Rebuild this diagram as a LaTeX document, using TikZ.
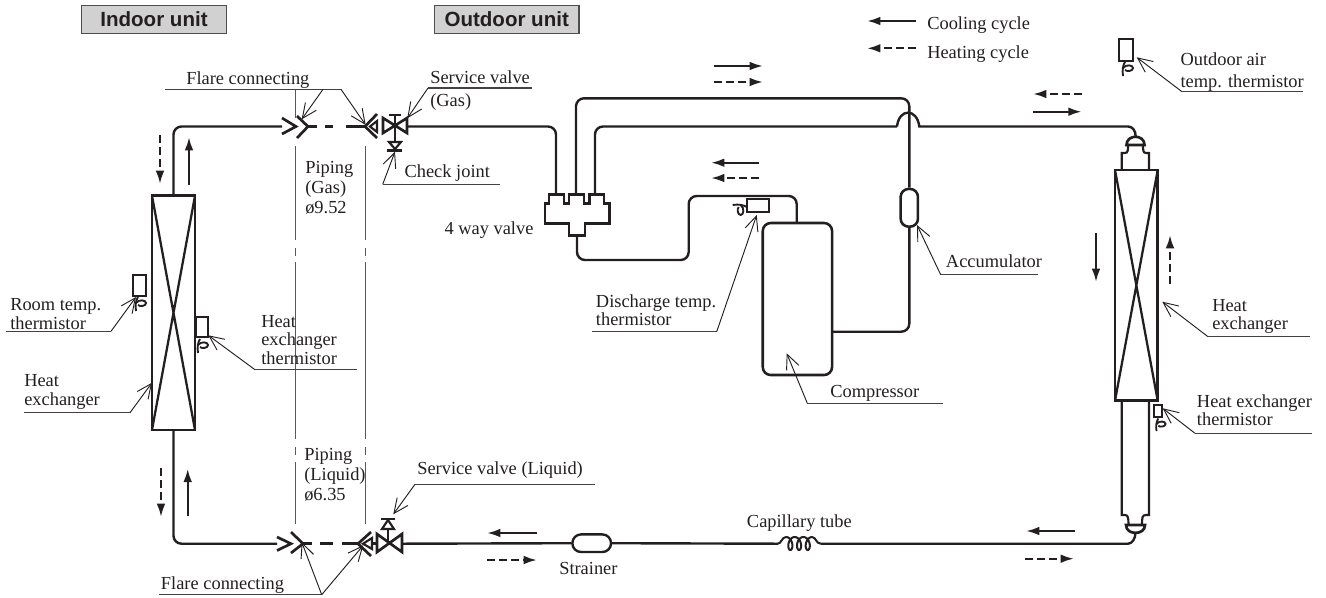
\documentclass[tikz,border=0pt]{standalone}
\usepackage{fontspec}
\setmainfont{Liberation Serif}
\newfontfamily\boxfont{Liberation Sans}
\usetikzlibrary{arrows.meta}
\definecolor{ink}{HTML}{231F20}
\tikzset{
  lbl/.style={inner sep=0pt,anchor=base west,align=left,text=ink,font=\fontsize{13.8}{13.9}\selectfont},
  lblwide/.style={lbl,font=\fontsize{13.8}{15}\selectfont},
  unitbox/.style={draw=ink!80,line width=0.9pt,fill=black!18,minimum width=108.5pt,minimum height=21.5pt,inner sep=0pt,font=\boxfont\bfseries\fontsize{15.4}{16}\selectfont,text=ink},
  pipe/.style={draw=ink,line width=1.8pt,rounded corners=6pt},
  hxbody/.style={draw=ink,line width=2.2pt,line join=miter},
  hxcross/.style={draw=ink,line width=1.7pt},
  part/.style={draw=ink,line width=2pt,line join=miter},
  partthin/.style={draw=ink,line width=1.6pt,line join=miter},
  leader/.style={draw=ink,line width=0.7pt,-{Straight Barb[length=11pt,width=10pt,line width=0.7pt]}},
  underl/.style={draw=ink!85,line width=0.8pt},
  cut/.style={draw=black!65,line width=0.9pt},
  cool/.style={draw=ink,line width=1.7pt,-{Latex[length=10pt,width=6.5pt]}},
  heat/.style={cool,dash pattern=on 6pt off 3pt},
  curl/.pic={\draw[ink,line width=1.4pt] (2,0) .. controls (0,3) and (-1,8) .. (0,14);
             \draw[ink,line width=1.4pt] (0,6) .. controls (3,2) and (10,3) .. (10,6) .. controls (10,9) and (4,10) .. (2,8);}
}
\begin{document}
\begin{tikzpicture}[x=0.75pt,y=-0.75pt,>=latex]
    \useasboundingbox (0,0) rectangle (1326,597);

    % unit titles
    \node[unitbox] (indoor) at (154,19.5) {Indoor unit};
    \node[unitbox] (outdoor) at (506.7,19.5) {Outdoor unit};

    % legend
    \coordinate (coolA) at (916,21);
    \coordinate (coolB) at (867,21);
    \coordinate (heatA) at (916,48.3);
    \coordinate (heatB) at (867,48.3);
    \draw[cool] (coolA) -- (coolB);
    \draw[heat] (heatA) -- (heatB);
    \node[lbl] (coolLbl) at (927,29) {Cooling cycle};
    \node[lbl] (heatLbl) at (927,58) {Heating cycle};

    % piping section lines
    \draw[cut] (295.5,89.3) -- (295.5,118);
    \foreach \x in {295.5,365.5} {
        \draw[cut] (\x,146) -- (\x,240);
        \draw[cut] (\x,248) -- (\x,255.5);
        \draw[cut] (\x,262) -- (\x,439);
        \draw[cut] (\x,447) -- (\x,455);
        \draw[cut] (\x,462) -- (\x,524);
    }

    % indoor heat exchanger
    \coordinate (ihxTop) at (173.5,195.7);
    \coordinate (ihxBot) at (173.5,430);
    \draw[hxbody] (152,195.7) rectangle (195,430);
    \draw[hxcross] (152,195.7) -- (195,430) (195,195.7) -- (152,430);

    % outdoor heat exchanger
    \coordinate (ohxTop) at (1135.7,136.7);
    \coordinate (ohxBot) at (1135.5,532);
    \draw[hxbody] (1115,170) rectangle (1157.7,400.7);
    \draw[hxcross] (1115,170) -- (1157.7,400.7) (1157.7,170) -- (1115,400.7);
    \draw[partthin] (1121.7,170) -- (1121.7,153) -- (1125,153) .. controls (1128,153) and (1128,150) .. (1128,145);
    \draw[partthin] (1149,170) -- (1149,153) -- (1146,153) .. controls (1143,153) and (1143,150) .. (1143,145);
    \draw[part] (1126.5,145) .. controls (1126.5,134) and (1144.5,134) .. (1144.5,145) -- cycle;
    \draw[partthin] (1121.7,400.7) -- (1121.7,515) -- (1125,515) .. controls (1128,515) and (1128.5,518) .. (1128.5,525);
    \draw[partthin] (1149,400.7) -- (1149,515) -- (1146,515) .. controls (1142,515) and (1142,518) .. (1142,525);
    \draw[part] (1126,525) -- (1145,525) .. controls (1145,535.5) and (1126,535.5) .. cycle;

    % flare and valves, gas side
    \coordinate (gasFlare) at (282,126.5);
    \coordinate (gasFlareB) at (308,126.5);
    \coordinate (gasValveL) at (365,126.5);
    \coordinate (gasValveR) at (407,126.5);
    \draw[part] (282,118) -- (296,126.5) -- (282,134);
    \draw[part] (297,116) -- (308,126.5) -- (297,138);
    \draw[part] (377,114) -- (365,126.5) -- (377,138);
    \draw[partthin] (377,121) -- (370,126.5) -- (377,132) -- cycle;
    \draw[part] (383,118) -- (407,133) -- (407,118) -- (383,133) -- cycle;
    \draw[part] (395,115) -- (395,142);
    \draw[part] (389,115) -- (401,115);
    \draw[partthin] (389,142) -- (401,142) -- (395,149) -- cycle;
    \draw[part] (387,150.3) -- (402,150.3);

    % flare and valves, liquid side
    \coordinate (liqFlareB) at (303,543.7);
    \coordinate (liqValveL) at (358,543.7);
    \coordinate (liqValveR) at (402,543.7);
    \draw[part] (277,537) -- (291,543.7) -- (277,550.5);
    \draw[part] (291,532) -- (303,543.7) -- (291,553);
    \draw[part] (371,532) -- (358,543.7) -- (371,556);
    \draw[partthin] (372,538) -- (363,543.7) -- (372,549) -- cycle;
    \draw[part] (372,543.7) -- (377,543.7);
    \draw[part] (377,534) -- (402,552) -- (402,534) -- (377,552) -- cycle;
    \draw[part] (388,543.7) -- (388,529);
    \draw[partthin] (382,529) -- (394,529) -- (388,520) -- cycle;
    \draw[part] (381,519) -- (395,519);

    % dashed pipe between the flares
    \draw[part] (gasFlareB) -- (317,126.5) (325,126.5) -- (333,126.5) (346,126.5) -- (gasValveL);
    \draw[part] (liqFlareB) -- (312,543.7) (320,543.7) -- (333,543.7) (342,543.7) -- (liqValveL);

    % 4 way valve
    \draw[part] (545,203.3) -- (549,203.3) -- (549,194.3) -- (564,194.3) -- (564,203.3) -- (569,203.3) -- (569,194.3) -- (584,194.3) -- (584,203.3) -- (589.3,203.3) -- (589.3,194.3) -- (604,194.3) -- (604,203.3) -- (609.3,203.3) -- (609.3,223.3) -- (585,223.3) -- (585,235.7) -- (569,235.7) -- (569,223.3) -- (545,223.3) -- cycle;
    \coordinate (wayA) at (556,194.3);
    \coordinate (wayB) at (576,194.3);
    \coordinate (wayC) at (595,194.3);
    \coordinate (wayD) at (577,235.7);

    % compressor, accumulator
    \node[draw=ink,line width=1.9pt,rounded corners=6pt,inner sep=0pt,minimum width=52pt,minimum height=114pt] (comp) at (797.4,299) {};
    \node[draw=ink,line width=1.9pt,rounded corners=6pt,inner sep=0pt,minimum width=13pt,minimum height=28.3pt] (accu) at (909.3,207.8) {};
    \node[draw=ink,line width=1.8pt,rounded corners=6.5pt,inner sep=0pt,minimum width=29pt,minimum height=13.2pt] (strainer) at (591.7,543.2) {};

    % pipes
    \draw[pipe] (ihxTop) -- (173.5,126.5) -- (gasFlare);
    \draw[pipe] (ihxBot) -- (173.5,543.7) -- (277,543.7);
    \draw[pipe] (gasValveR) -- (556,126.5) -- (wayA);
    \draw[pipe] (wayB) -- (576,98.3) -- (909.3,98.3) -- (accu.north);
    \draw[pipe] (wayC) -- (595,126.5) -- (897,126.5);
    \draw[pipe,rounded corners=0pt] (897,126.5) .. controls (899,108) and (917,108) .. (919.3,126.5) -- (1128,126.5) .. controls (1132,126.5) and (1135.7,130) .. (ohxTop);
    \draw[pipe] (wayD) -- (577,260) -- (688.7,260) -- (688.7,196) -- (796.7,196) -- (796.7,223);
    \draw[pipe] (accu.south) -- (909.3,331.7) -- (832,331.7);
    \coordinate (coilA) at (778,543.7);
    \coordinate (coilB) at (820.7,543.7);
    \draw[pipe,rounded corners=0pt] (ohxBot) .. controls (1135.5,539) and (1132,543.7) .. (1128,543.7) -- (coilB);
    \draw[pipe] (coilA) -- (strainer.east);
    \draw[pipe] (strainer.west) -- (liqValveR);

    % capillary coil
    \draw[ink,line width=1.5pt] (coilA) .. controls (781,543.7) and (782,537) .. (786,537);
    \draw[ink,line width=1.5pt,domain=0:1080,samples=120,smooth] plot ({786+\x*8.7/360+4*sin(\x)},{543.5-6.5*cos(\x)});
    \draw[ink,line width=1.5pt] (812,537) .. controls (816,537) and (816,543.7) .. (coilB);

    % thermistors
    \draw[partthin] (132.7,275) rectangle (146,296);
    \pic at (136,297) {curl};
    \draw[partthin] (196,317) rectangle (208,337);
    \pic at (198,339) {curl};
    \draw[partthin] (746.7,199) rectangle (769,212);
    \pic[rotate=-90] at (746.7,205) {curl};
    \draw[partthin] (1119,39) rectangle (1132.7,60.7);
    \pic at (1123,62) {curl};
    \draw[partthin] (1153.7,405) rectangle (1161.7,417.3);
    \pic[scale=0.9] at (1156.5,418.5) {curl};

    % flow arrows
    \foreach \a/\b/\c/\d in {714/66/763/66, 1033/111.7/1081.7/111.7, 759/162.7/711/162.7, 1096/233/1096/282, 1075/531/1026/531, 537/533/487/533, 189/185/189/137, 187.7/516/187.7/468.7} {
        \draw[cool] (\a,\b) -- (\c,\d);
    }
    \foreach \a/\b/\c/\d in {714/82/763/82, 1081.7/94/1033/94, 759/178/711/178, 1170/284/1170/235, 1025/558.7/1074/558.7, 487/560/537/560, 160/135/160/184, 161/468/161/517} {
        \draw[heat] (\a,\b) -- (\c,\d);
    }

    % labels with their leaders
    \node[lbl] (flareTop) at (186,84) {Flare connecting};
    \coordinate (flareTopA) at (165,89.3);
    \coordinate (flareTopB) at (341,89.3);
    \coordinate (flareTopC) at (323,89.3);
    \draw[underl] (flareTopA) -- (flareTopB);
    \draw[leader] (flareTopC) -- (301.7,119.3);
    \draw[leader] (flareTopB) -- (365.7,125);

    \node[lbl] (gasSV) at (430,83.5) {Service valve};
    \node[lbl] (gasSVb) at (430,106) {(Gas)};
    \coordinate (gasSVA) at (428,88);
    \coordinate (gasSVB) at (532,88);
    \draw[underl] (gasSVA) -- (gasSVB);
    \draw[leader] (gasSVA) -- (407.3,118.3);

    \node[lbl] (check) at (404.3,177.7) {Check joint};
    \coordinate (checkA) at (382.7,184.3);
    \coordinate (checkB) at (500,184.3);
    \draw[underl] (checkA) -- (checkB);
    \draw[leader] (checkA) -- (395,151.7);

    \node[lbl] (way) at (444.3,234) {4 way valve};
    \node[lblwide,anchor=north west] (pipeGas) at (305,161) {Piping\\(Gas)\\ø9.52};
    \node[lblwide,anchor=north west] (pipeLiq) at (304,448) {Piping\\(Liquid)\\ø6.35};

    \node[lbl] (liqSV) at (417,474.7) {Service valve (Liquid)};
    \coordinate (liqSVA) at (415,484.3);
    \coordinate (liqSVB) at (595,484.3);
    \draw[underl] (liqSVA) -- (liqSVB);
    \draw[leader] (liqSVA) -- (393.3,514.3);

    \node[lbl] (flareBot) at (160.7,589) {Flare connecting};
    \coordinate (flareBotA) at (159,594.7);
    \coordinate (flareBotB) at (321.7,594.7);
    \draw[underl] (flareBotA) -- (flareBotB);
    \draw[leader] (flareBotB) -- (301.7,542);
    \draw[leader] (flareBotB) -- (363.3,545.3);

    \node[lbl,anchor=north west] (room) at (10,298.5) {Room temp.\\thermistor};
    \coordinate (roomA) at (6,331.3);
    \coordinate (roomB) at (111,331.3);
    \draw[underl] (roomA) -- (roomB);
    \draw[leader] (roomB) -- (136,297);

    \node[lbl,anchor=north west] (ihxThm) at (261,315) {Heat\\exchanger\\thermistor};
    \coordinate (ihxThmA) at (255,369.7);
    \coordinate (ihxThmB) at (357,369.7);
    \draw[underl] (ihxThmA) -- (ihxThmB);
    \draw[leader] (ihxThmA) -- (208.3,335.3);

    \node[lbl,anchor=north west] (ihxLbl) at (24,374.5) {Heat\\exchanger};
    \coordinate (ihxLblA) at (24,412.7);
    \coordinate (ihxLblB) at (130,412.7);
    \draw[underl] (ihxLblA) -- (ihxLblB);
    \draw[leader] (ihxLblB) -- (152,382.7);

    \node[lbl,anchor=north west] (disch) at (595.7,294) {Discharge temp.\\thermistor};
    \coordinate (dischA) at (592,331.7);
    \coordinate (dischB) at (716.7,331.7);
    \draw[underl] (dischA) -- (dischB);
    \draw[leader] (dischB) -- (756.7,215);

    \node[lbl] (compLbl) at (830,397.7) {Compressor};
    \coordinate (compA) at (807.3,403.3);
    \coordinate (compB) at (943,403.3);
    \draw[underl] (compA) -- (compB);
    \draw[leader] (compA) -- (786.7,353.3);

    \node[lbl] (accuLbl) at (945.7,267.7) {Accumulator};
    \coordinate (accuA) at (940.7,274.7);
    \coordinate (accuB) at (1038,274.7);
    \draw[underl] (accuA) -- (accuB);
    \draw[leader] (accuA) -- (917,225);

    \node[lbl,anchor=north west] (air) at (1180.3,52.5) {Outdoor air\\[2.8pt]temp. thermistor};
    \coordinate (airA) at (1182,91.7);
    \coordinate (airB) at (1303,91.7);
    \draw[underl] (airA) -- (airB);
    \draw[leader] (airA) -- (1136.7,57.3);

    \node[lbl,anchor=north west] (ohxLbl) at (1212,299) {Heat\\exchanger};
    \coordinate (ohxLblA) at (1208,336.7);
    \coordinate (ohxLblB) at (1310,336.7);
    \draw[underl] (ohxLblA) -- (ohxLblB);
    \draw[leader] (ohxLblA) -- (1162.3,301.7);

    \node[lbl,anchor=north west] (ohxThm) at (1196.7,394) {Heat exchanger\\thermistor};
    \coordinate (ohxThmA) at (1195,433.3);
    \coordinate (ohxThmB) at (1312,433.3);
    \draw[underl] (ohxThmA) -- (ohxThmB);
    \draw[leader] (ohxThmA) -- (1162.7,408.3);

    \node[lbl] (strainerLbl) at (559,574) {Strainer};
    \node[lbl] (capLbl) at (746.7,527.3) {Capillary tube};
\end{tikzpicture}
\end{document}
